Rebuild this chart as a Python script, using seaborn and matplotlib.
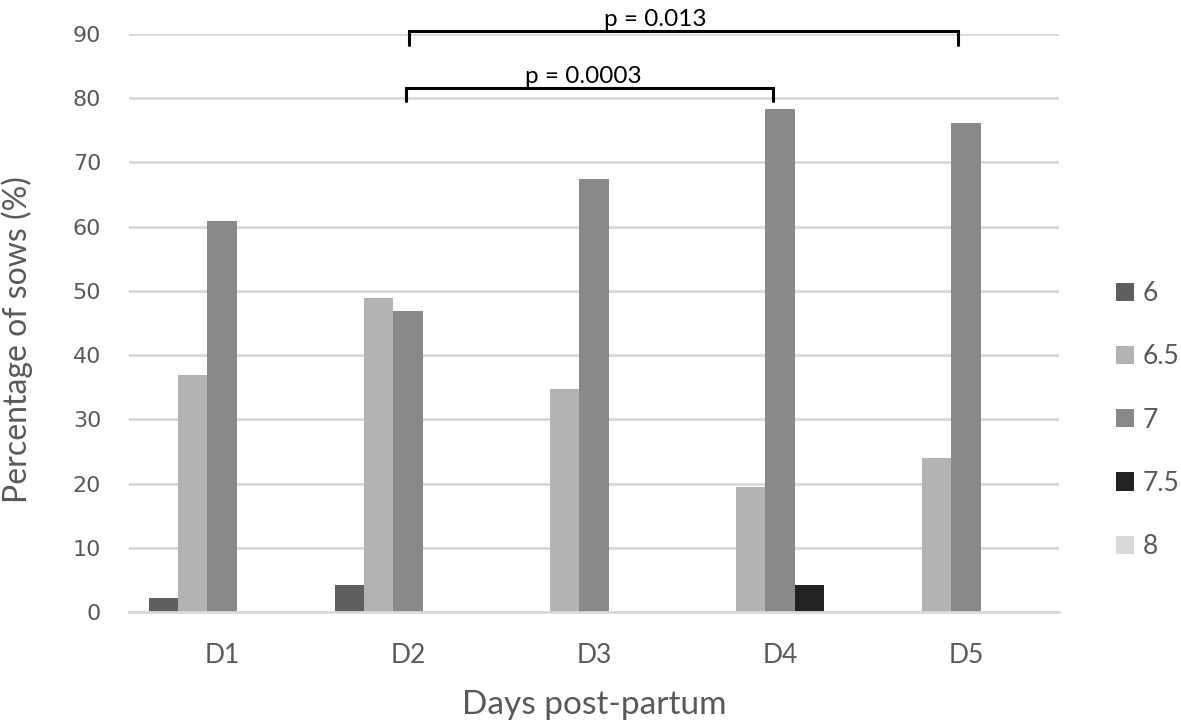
import matplotlib
matplotlib.use("Agg")
import matplotlib.pyplot as plt
import seaborn as sns
import pandas as pd

days = ["D1", "D2", "D3", "D4", "D5"]
levels = ["6", "6.5", "7", "7.5", "8"]
v6 = [2.2, 4.3, 0.0, 0.0, 0.0]
v65 = [36.9, 48.9, 34.8, 19.5, 24.0]
v7 = [60.8, 46.8, 67.4, 78.3, 76.1]
v75 = [0.0, 0.0, 0.0, 4.3, 0.0]
v8 = [0.0, 0.0, 0.0, 0.0, 0.0]
colors = ["#5f5f5f", "#b3b3b3", "#898989", "#222222", "#d9d9d9"]
yticks = [0, 10, 20, 30, 40, 50, 60, 70, 80, 90]

rows = []
for lvl, vals in zip(levels, [v6, v65, v7, v75, v8]):
    for d, v in zip(days, vals):
        rows.append({"day": d, "level": lvl, "pct": v})
df = pd.DataFrame(rows)

sns.set_theme(style="white")
plt.rcParams["font.family"] = ["Lato", "DejaVu Sans"]

fig = plt.figure(figsize=(11.81, 7.25), dpi=100)
ax = fig.add_axes([129 / 1181, 1 - 612.3 / 725, (1059 - 129) / 1181, (612.3 - 33.8) / 725])

sns.barplot(data=df, x="day", y="pct", hue="level", hue_order=levels,
            palette=colors, width=0.78, gap=0, saturation=1, ax=ax,
            edgecolor="none", linewidth=0, legend=True)

ax.set_ylim(0, 90)
ax.set_xlim(-0.5, 4.5)
ax.set_yticks(yticks)
ax.yaxis.grid(True, color="#d9d9d9", linewidth=2)
ax.set_axisbelow(True)
for s in ["top", "right", "left"]:
    ax.spines[s].set_visible(False)
ax.spines["bottom"].set_color("#d9d9d9")
ax.spines["bottom"].set_linewidth(2)
ax.tick_params(axis="y", length=0, pad=20, labelsize=16, labelcolor="#595959")
ax.tick_params(axis="x", length=0, pad=22, labelsize=19, labelcolor="#595959")
for lab in ax.get_yticklabels():
    lab.set_fontfamily("DejaVu Sans")
ax.set_xlabel("Days post-partum", fontsize=24, color="#595959")
ax.set_ylabel("Percentage of sows (%)", fontsize=23, color="#595959")
ax.xaxis.set_label_coords(0.5, -0.134)
ax.yaxis.set_label_coords(-0.103, 0.472)

handles, labels = ax.get_legend_handles_labels()
ax.legend(handles, labels, loc="center left", bbox_to_anchor=(1116 / 1181, 1 - 420 / 725),
          bbox_transform=fig.transFigure, frameon=False, fontsize=19,
          labelcolor="#595959", handlelength=0.68, handleheight=0.68,
          handletextpad=0.34, labelspacing=1.45, borderpad=0, borderaxespad=0)

# significance brackets
def bracket(x0, x1, y, ydrop, text, tx, ty):
    ax.plot([x0, x0, x1, x1], [y - ydrop, y, y, y - ydrop], color="black",
            linewidth=2.2, clip_on=False, solid_joinstyle="miter")
    ax.text(tx, ty, text, ha="center", va="center", fontsize=17.5, color="black",
            clip_on=False)

bracket(1.004, 3.957, 90.4, 2.1, "p = 0.013", 2.33, 92.3)
bracket(0.99, 2.96, 81.6, 2.0, "p = 0.0003", 1.94, 83.4)

fig.savefig("out.png", dpi=100)
